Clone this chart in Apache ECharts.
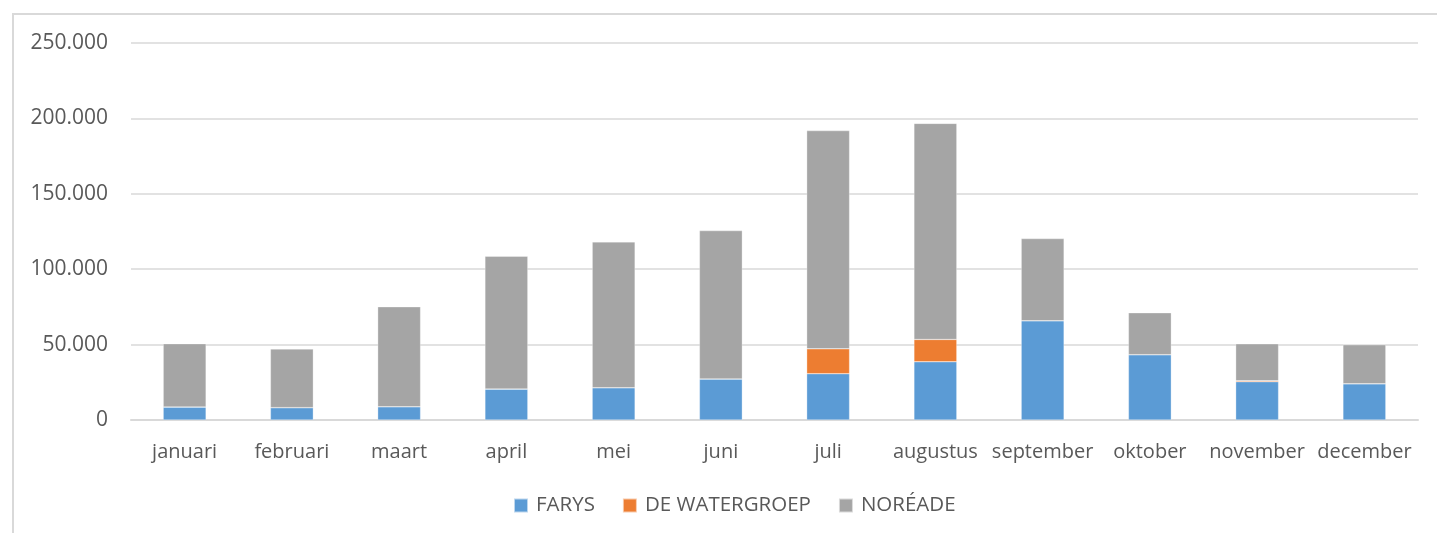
<!DOCTYPE html>
<html>
<head>
<meta charset="utf-8">
<script src="https://cdn.jsdelivr.net/npm/echarts@6/dist/echarts.min.js"></script>
<style>
  html, body { margin: 0; padding: 0; background: #fff; }
  #chart { width: 1437px; height: 533px; }
</style>
</head>
<body>
<div id="chart"></div>
<script>
const months = ['januari', 'februari', 'maart', 'april', 'mei', 'juni', 'juli', 'augustus', 'september', 'oktober', 'november', 'december']
const farys = [8600, 8200, 8800, 20500, 21400, 27200, 30700, 38600, 65800, 43300, 25400, 24000]
const deWatergroep = [0, 0, 0, 0, 0, 0, 16500, 14800, 0, 0, 600, 0]
const noreade = [42000, 38900, 66300, 88100, 96700, 98400, 144700, 143300, 54500, 27800, 24500, 25900]

const textColor = '#595959'
const font = 'Open Sans'

// Excel-stijl: 250.000 met punt als duizendtal-scheiding
function fmt(v) {
  return String(v).replace(/\B(?=(\d{3})+(?!\d))/g, '.')
}

const chart = echarts.init(document.getElementById('chart'))

const mkSeries = (name, data, color) => ({
  name: name,
  type: 'bar',
  stack: 'total',
  barWidth: '40%',
  data: data,
  itemStyle: { color: color, borderColor: 'rgba(255,255,255,0.6)', borderWidth: 0.5 },
  emphasis: { disabled: true },
})

chart.setOption({
  animation: false,
  textStyle: { fontFamily: font },
  graphic: [{
    type: 'rect',
    shape: { x: 13, y: 14, width: 1500, height: 600 },
    style: { fill: 'none', stroke: '#d9d9d9', lineWidth: 2 },
    silent: true,
  }],
  grid: {
    left: 131,
    right: 19,
    top: 43,
    bottom: 113,
  },
  legend: {
    left: 508,
    top: 490,
    itemWidth: 14,
    itemHeight: 14,
    itemGap: 27,
    icon: 'rect',
    textStyle: { color: textColor, fontSize: 20.5, fontFamily: font, padding: [0, 0, 0, 3] },
    data: ['FARYS', 'DE WATERGROEP', 'NORÉADE'],
  },
  xAxis: {
    type: 'category',
    data: months,
    axisTick: { show: false },
    axisLine: { lineStyle: { color: '#d9d9d9', width: 2 } },
    axisLabel: { color: textColor, fontSize: 20, margin: 22, interval: 0 },
  },
  yAxis: {
    type: 'value',
    min: 0,
    max: 250000,
    interval: 50000,
    axisLine: { show: false },
    axisTick: { show: false },
    splitLine: { lineStyle: { color: '#d9d9d9', width: 1.5 } },
    axisLabel: { color: textColor, fontSize: 21, margin: 23, formatter: fmt },
  },
  series: [
    mkSeries('FARYS', farys, '#5b9bd5'),
    mkSeries('DE WATERGROEP', deWatergroep, '#ed7d31'),
    mkSeries('NORÉADE', noreade, '#a5a5a5'),
  ],
})
</script>
</body>
</html>
